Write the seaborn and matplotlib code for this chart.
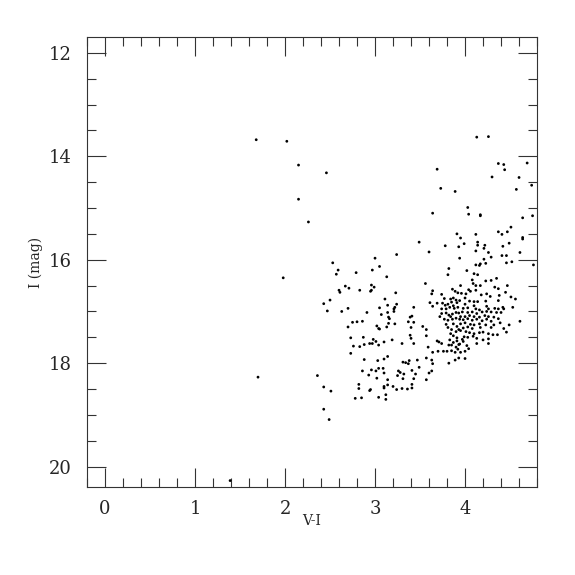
import numpy as np
import pandas as pd
import matplotlib
matplotlib.use("Agg")
import matplotlib.pyplot as plt
import seaborn as sns
from matplotlib.ticker import MultipleLocator

# colour V-I and magnitude I
v_i = [
    1.68, 2.02, 2.15, 2.46, 2.15, 2.26, 1.98, 1.70, 1.39,
    3.00, 2.53, 3.05, 2.59, 2.97, 2.57, 2.79, 3.13, 2.67, 2.96, 2.99, 2.71, 2.60, 2.61,
    2.83, 2.96, 2.95, 2.50, 3.11, 2.43, 3.14, 2.70, 3.05, 2.47, 2.63, 2.91, 3.15,
    2.75, 2.80, 2.86, 2.70, 3.02, 3.04, 3.05, 3.13, 3.15, 2.73, 2.87, 2.98, 3.01, 3.10,
    2.76, 2.83, 2.88, 2.94, 2.97, 3.04, 2.73, 2.88, 3.03, 3.10, 3.14, 2.86, 2.96, 3.01,
    3.04, 3.09, 3.10, 2.93, 3.02, 3.14, 2.36, 2.43, 2.51, 2.82, 2.82, 2.95, 2.94, 3.10,
    3.10, 3.12, 3.14, 2.78, 2.85, 3.04, 3.12, 2.43, 2.49,
    3.91, 3.49, 3.78, 3.93, 3.24, 3.60, 3.82, 3.81, 3.56, 3.64, 3.63, 3.23, 3.74, 3.86,
    3.89, 3.92, 3.77, 3.84, 3.87, 3.90, 3.24, 3.61, 3.69, 3.75, 3.78, 3.81, 3.85, 3.87,
    3.91, 3.22, 3.21, 3.43, 3.64, 3.74, 3.79, 3.83, 3.88, 3.92,
    3.07, 3.14, 3.21, 3.16, 3.22, 3.39, 3.41, 3.37, 3.43, 3.40, 3.53, 3.57, 3.39, 3.40,
    3.57, 3.19, 3.30, 3.43, 3.59, 3.69, 3.71, 3.74, 3.70, 3.31, 3.34, 3.38, 3.37, 3.47,
    3.57, 3.63, 3.64, 3.49, 3.64, 3.63, 3.26, 3.28, 3.32, 3.31, 3.25, 3.41, 3.45, 3.43,
    3.60, 3.57, 3.20, 3.24, 3.30, 3.36, 3.41, 3.41,
    3.72, 3.74, 3.79, 3.82, 3.84, 3.86, 3.90, 3.93, 3.77, 3.81, 3.86, 3.90, 3.94, 3.79,
    3.87, 3.91, 3.81, 3.85, 3.90, 3.93, 3.84, 3.87, 3.91, 3.83, 3.87, 3.91, 3.93, 3.82,
    3.85, 3.90, 3.76, 3.80, 3.85, 3.89, 3.92, 3.82, 3.89, 3.93,
    4.13, 4.26, 4.37, 4.43, 4.44, 4.69, 4.30, 4.60, 4.74, 4.57, 3.89, 4.03, 4.04, 4.17,
    4.17, 4.64, 4.75, 4.51, 4.12, 4.37, 4.41, 4.47,
    3.95, 3.99, 4.14, 4.14, 4.22, 4.21, 4.12, 4.26, 4.42, 4.49, 4.64, 4.64, 4.61, 3.94,
    4.21, 4.29, 4.41, 4.46, 4.46, 4.52, 4.23, 4.17, 4.12, 4.16, 4.76, 4.02, 4.10, 4.14,
    4.23, 4.29, 4.35, 4.08, 3.95, 4.09, 4.12, 4.17, 4.33, 4.37, 4.47, 4.45, 3.96, 4.04,
    4.06, 4.01, 4.12, 4.18, 4.24, 4.28, 4.38, 4.51, 4.56, 3.94, 4.00, 4.05, 4.00, 4.10,
    4.14, 4.23, 4.37, 3.98, 4.03, 4.10, 4.12, 4.24, 4.26, 4.33, 4.37, 4.42, 4.43, 4.53,
    4.16, 3.97, 4.03, 4.08, 4.13, 4.19, 4.24, 4.29, 4.35, 4.40, 3.95, 4.00, 4.05, 4.10,
    4.16, 4.22, 4.26, 4.32, 4.37, 3.98, 4.03, 4.08, 4.13, 4.19, 4.24, 4.29, 3.95, 4.00,
    4.06, 4.10, 4.16, 4.23, 4.32, 4.39, 4.49, 4.61, 3.98, 4.03, 4.08, 4.17, 4.29, 4.43,
    4.46, 3.95, 4.01, 4.05, 4.10, 4.16, 4.20, 4.26, 4.31, 4.36, 3.99, 4.03, 4.09, 4.13,
    4.20, 4.26, 3.97, 3.98, 3.94, 4.02, 4.13, 4.26, 4.04, 3.95, 4.00, 4.00,
    3.69, 3.73, 3.64,
]
i_mag = [
    13.68, 13.71, 14.17, 14.32, 14.83, 15.27, 16.35, 18.27, 20.27,
    15.97, 16.06, 16.13, 16.20, 16.20, 16.28, 16.25, 16.33, 16.51, 16.49, 16.53, 16.55, 16.59, 16.63,
    16.59, 16.59, 16.61, 16.78, 16.76, 16.85, 16.88, 16.94, 16.93, 16.99, 17.00, 17.02, 17.11,
    17.21, 17.20, 17.19, 17.30, 17.28, 17.33, 17.34, 17.30, 17.23, 17.51, 17.50, 17.54, 17.58, 17.59,
    17.67, 17.68, 17.64, 17.62, 17.62, 17.65, 17.81, 17.93, 17.95, 17.92, 17.87, 18.15, 18.13, 18.15,
    18.10, 18.10, 18.19, 18.23, 18.29, 18.32, 18.24, 18.46, 18.54, 18.41, 18.49, 18.51, 18.53, 18.48,
    18.45, 18.61, 18.42, 18.68, 18.67, 18.66, 18.70, 18.89, 19.09,
    15.50, 15.66, 15.73, 15.75, 15.90, 15.85, 16.17, 16.29, 16.46, 16.60, 16.66, 16.64, 16.67, 16.57,
    16.61, 16.64, 16.75, 16.76, 16.74, 16.78, 16.86, 16.83, 16.84, 16.84, 16.88, 16.86, 16.82, 16.89,
    16.83, 16.92, 16.95, 16.92, 16.90, 16.95, 16.95, 16.92, 16.94, 16.92,
    17.06, 17.02, 17.00, 17.14, 17.24, 17.11, 17.09, 17.20, 17.21, 17.31, 17.29, 17.35, 17.46, 17.52,
    17.47, 17.55, 17.62, 17.62, 17.69, 17.57, 17.59, 17.62, 17.77, 17.98, 17.99, 17.95, 18.01, 17.94,
    17.90, 17.94, 17.79, 18.08, 18.01, 18.15, 18.15, 18.18, 18.21, 18.30, 18.24, 18.14, 18.21, 18.30,
    18.19, 18.32, 18.45, 18.51, 18.49, 18.50, 18.48, 18.41,
    17.10, 17.04, 17.03, 17.07, 17.10, 17.05, 17.02, 17.03, 17.15, 17.17, 17.15, 17.13, 17.15, 17.25,
    17.24, 17.29, 17.31, 17.35, 17.39, 17.35, 17.43, 17.47, 17.51, 17.55, 17.60, 17.57, 17.64, 17.65,
    17.65, 17.69, 17.77, 17.77, 17.76, 17.79, 17.73, 18.00, 17.94, 17.90,
    13.63, 13.62, 14.14, 14.16, 14.26, 14.13, 14.40, 14.41, 14.56, 14.64, 14.68, 14.99, 15.12, 15.15,
    15.13, 15.19, 15.15, 15.37, 15.51, 15.46, 15.51, 15.46,
    15.58, 15.69, 15.66, 15.72, 15.72, 15.78, 15.83, 15.86, 15.74, 15.68, 15.57, 15.60, 15.86, 15.97,
    15.99, 15.95, 15.92, 15.92, 16.06, 16.04, 16.07, 16.08, 16.10, 16.11, 16.10, 16.21, 16.27, 16.29,
    16.41, 16.40, 16.36, 16.39, 16.50, 16.46, 16.50, 16.50, 16.53, 16.56, 16.50, 16.63, 16.65, 16.58,
    16.61, 16.66, 16.59, 16.68, 16.66, 16.71, 16.69, 16.72, 16.76, 16.79, 16.74, 16.80, 16.86, 16.81,
    16.81, 16.80, 16.79, 16.94, 16.93, 16.89, 16.95, 16.90, 16.95, 16.94, 16.95, 16.92, 16.95, 16.92,
    16.97, 17.01, 17.02, 17.01, 17.04, 17.01, 17.00, 17.01, 17.02, 17.02, 17.10, 17.10, 17.08, 17.10,
    17.11, 17.08, 17.10, 17.11, 17.14, 17.16, 17.14, 17.17, 17.15, 17.18, 17.15, 17.19, 17.24, 17.22,
    17.25, 17.26, 17.24, 17.26, 17.26, 17.22, 17.26, 17.19, 17.32, 17.30, 17.33, 17.31, 17.31, 17.33,
    17.40, 17.37, 17.39, 17.41, 17.43, 17.41, 17.40, 17.43, 17.45, 17.45, 17.49, 17.50, 17.48, 17.52,
    17.55, 17.53, 17.54, 17.58, 17.63, 17.66, 17.62, 17.62, 17.72, 17.79, 17.77, 17.91,
    14.25, 14.62, 15.10,
]

df = pd.DataFrame({"V-I": v_i, "I": i_mag})

sns.set_style("ticks")
plt.rcParams["font.family"] = ["DejaVu Serif"]
plt.rcParams["mathtext.fontset"] = "dejavuserif"

fig = plt.figure(figsize=(5.75, 5.75), dpi=100)
ax = fig.add_axes([0.1513, 0.1525, 0.7827, 0.7826])

sns.scatterplot(data=df, x="V-I", y="I", ax=ax, marker="o", s=4,
                color="black", edgecolor="none", linewidth=0)

ax.set_xlim(-0.2, 4.8)
ax.set_ylim(20.4, 11.7)
ax.xaxis.set_major_locator(MultipleLocator(1))
ax.xaxis.set_minor_locator(MultipleLocator(0.2))
ax.yaxis.set_major_locator(MultipleLocator(2))
ax.yaxis.set_minor_locator(MultipleLocator(0.5))

ax.tick_params(which="both", direction="in", top=True, right=True,
               color="#333333", width=0.8)
ax.tick_params(which="major", length=13.5, labelsize=13)
ax.tick_params(which="minor", length=6.5)
ax.tick_params(axis="x", which="major", pad=9)
ax.tick_params(axis="y", which="major", pad=11)

for sp in ax.spines.values():
    sp.set_color("#333333")
    sp.set_linewidth(0.8)

ax.set_xlabel("V-I", fontsize=10, labelpad=-3)
ax.set_ylabel("I (mag)", fontsize=10, labelpad=4)

fig.savefig("out.png", dpi=100)
